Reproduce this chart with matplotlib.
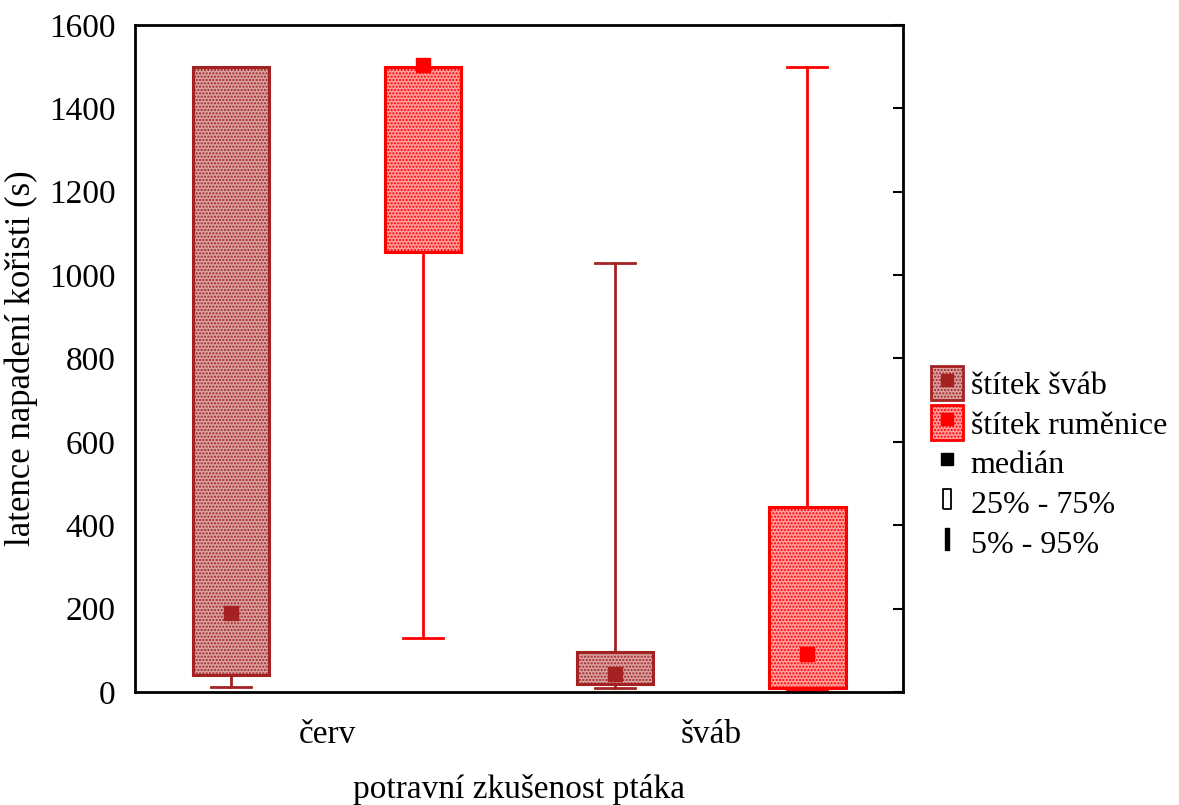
import matplotlib.pyplot as plt
from matplotlib.patches import Patch
from matplotlib.lines import Line2D
from matplotlib.path import Path

plt.rcParams['font.family'] = ['Liberation Serif', 'DejaVu Serif']
plt.rcParams['hatch.linewidth'] = 1.0

# skupiny (potravni zkusenost) a serie (typ stitku)
groups = ['červ', 'šváb']
series = ['štítek šváb', 'štítek ruměnice']
colors = ['#a52222', '#ff0000']
faces = ['#d8a0a0', '#ff9c9c']

# statistiky: 5 %, 25 %, median, 75 %, 95 %
p05 = [[12, 130], [10, 5]]
q25 = [[40, 1055], [20, 10]]
med = [[190, 1505], [43, 91]]
q75 = [[1500, 1500], [96, 444]]
p95 = [[1500, 1500], [1030, 1500]]

offsets = [-0.25, 0.25]
box_w = 0.2

fig = plt.figure(figsize=(11.79, 8.05), dpi=100)
ax = fig.add_axes([0.1145, 0.1404, 0.6515, 0.8286])

for s in range(len(series)):
    stats = []
    pos = []
    for g in range(len(groups)):
        stats.append(dict(whislo=p05[g][s], q1=q25[g][s], med=med[g][s],
                          q3=q75[g][s], whishi=p95[g][s], fliers=[]))
        pos.append(g + offsets[s])
    bp = ax.bxp(stats, positions=pos, widths=box_w, patch_artist=True,
                showfliers=False,
                boxprops=dict(facecolor=faces[s], edgecolor=colors[s],
                              linewidth=2.2, hatch='.....'),
                whiskerprops=dict(color=colors[s], linewidth=2),
                capprops=dict(color=colors[s], linewidth=2),
                medianprops=dict(linewidth=0), capwidths=0.105)
    for b in bp['boxes']:
        b.set_zorder(2)
    ax.plot(pos, [med[g][s] for g in range(len(groups))], 's',
            color=colors[s], markersize=9.5, zorder=4)

ax.set_xlim(-0.5, 1.5)
ax.set_ylim(0, 1600)
ax.set_xticks(range(len(groups)))
ax.set_xticklabels(groups)
ax.set_yticks(range(0, 1601, 200))
ax.tick_params(axis='x', length=0, labelsize=24, pad=20)
ax.tick_params(axis='y', left=False, right=True, direction='in',
               length=7, width=1.5, labelsize=24, pad=14)
for sp in ax.spines.values():
    sp.set_linewidth(2)
ax.set_xlabel('potravní zkušenost ptáka', fontsize=24, labelpad=17)
ax.set_ylabel('latence napadení kořisti (s)', fontsize=25, labelpad=8)

rect = Path([(-0.35, -1), (0.35, -1), (0.35, 1), (-0.35, 1), (-0.35, -1)])
handles = []
for s in range(len(series)):
    handles.append((Patch(facecolor=faces[s], edgecolor=colors[s],
                          linewidth=2, hatch='.....'),
                    Line2D([], [], marker='s', color=colors[s], ls='',
                           markersize=8)))
handles.append(Line2D([], [], marker='s', color='black', ls='', markersize=8))
handles.append(Line2D([], [], marker=rect, color='black', mfc='none', ls='',
                      markersize=15, mew=1.3))
handles.append(Line2D([], [], marker='$\\mathrm{I}$', color='black', ls='',
                      markersize=16))
labels = series + ['medián', '25% - 75%', '5% - 95%']
fig.legend(handles, labels, loc='center left', bbox_to_anchor=(0.776, 0.425),
           frameon=False, fontsize=23, handlelength=1.0, handleheight=1.3,
           handletextpad=0.25, labelspacing=0.15, borderpad=0)

fig.savefig('out.png', dpi=100)
